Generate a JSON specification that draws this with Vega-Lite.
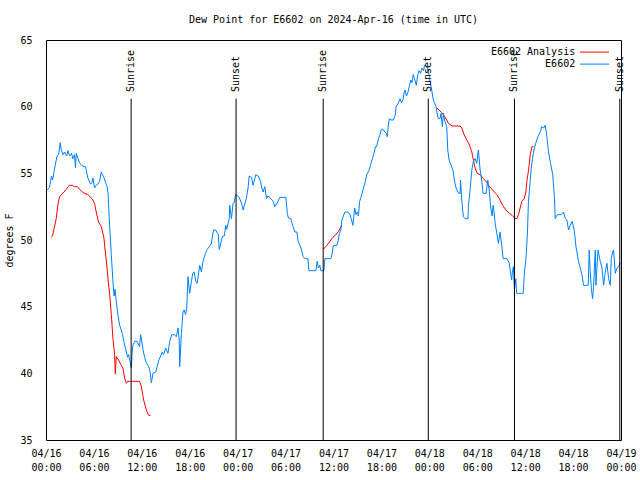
{
  "$schema": "https://vega.github.io/schema/vega-lite/v6.json",
  "width": 575,
  "height": 400,
  "autosize": "none",
  "padding": {"left": 46, "top": 40, "right": 19, "bottom": 40},
  "background": "white",
  "config": {
    "view": {"stroke": null},
    "font": "DejaVu Sans Mono",
    "axis": {"domainColor": "black", "tickColor": "black", "labelColor": "black", "titleColor": "black", "grid": false, "domainWidth": 1, "tickWidth": 1}
  },
  "title": {"text": "Dew Point for E6602 on 2024-Apr-16 (time in UTC)", "font": "DejaVu Sans Mono", "fontSize": 10, "fontWeight": "normal", "color": "black", "anchor": "middle", "frame": "group", "baseline": "alphabetic", "offset": 2},
  "datasets": {
    "ana": [
      {"h":0.65,"v":50.2,"s":"E6602 Analysis","seg":1},{"h":0.82,"v":50.3,"s":"E6602 Analysis","seg":1},{"h":0.97,"v":50.75,"s":"E6602 Analysis","seg":1},{"h":1.28,"v":51.6,"s":"E6602 Analysis","seg":1},{"h":1.48,"v":52.6,"s":"E6602 Analysis","seg":1},{"h":1.69,"v":53.25,"s":"E6602 Analysis","seg":1},{"h":2.01,"v":53.45,"s":"E6602 Analysis","seg":1},{"h":2.26,"v":53.6,"s":"E6602 Analysis","seg":1},{"h":2.53,"v":53.8,"s":"E6602 Analysis","seg":1},{"h":2.76,"v":54.0,"s":"E6602 Analysis","seg":1},{"h":2.95,"v":54.1,"s":"E6602 Analysis","seg":1},{"h":3.32,"v":54.1,"s":"E6602 Analysis","seg":1},{"h":3.57,"v":54.0,"s":"E6602 Analysis","seg":1},{"h":3.95,"v":54.0,"s":"E6602 Analysis","seg":1},{"h":4.2,"v":53.8,"s":"E6602 Analysis","seg":1},{"h":4.58,"v":53.6,"s":"E6602 Analysis","seg":1},{"h":4.83,"v":53.5,"s":"E6602 Analysis","seg":1},{"h":5.24,"v":53.4,"s":"E6602 Analysis","seg":1},{"h":5.77,"v":53.1,"s":"E6602 Analysis","seg":1},{"h":6.08,"v":52.75,"s":"E6602 Analysis","seg":1},{"h":6.29,"v":52.1,"s":"E6602 Analysis","seg":1},{"h":6.58,"v":51.35,"s":"E6602 Analysis","seg":1},{"h":6.92,"v":51.0,"s":"E6602 Analysis","seg":1},{"h":7.24,"v":50.2,"s":"E6602 Analysis","seg":1},{"h":7.46,"v":48.95,"s":"E6602 Analysis","seg":1},{"h":7.62,"v":48.05,"s":"E6602 Analysis","seg":1},{"h":7.75,"v":47.15,"s":"E6602 Analysis","seg":1},{"h":7.96,"v":46.0,"s":"E6602 Analysis","seg":1},{"h":8.18,"v":44.4,"s":"E6602 Analysis","seg":1},{"h":8.38,"v":42.65,"s":"E6602 Analysis","seg":1},{"h":8.59,"v":41.4,"s":"E6602 Analysis","seg":1},{"h":8.68,"v":39.95,"s":"E6602 Analysis","seg":1},{"h":8.8,"v":41.25,"s":"E6602 Analysis","seg":1},{"h":9.09,"v":41.0,"s":"E6602 Analysis","seg":1},{"h":9.43,"v":40.6,"s":"E6602 Analysis","seg":1},{"h":9.63,"v":40.4,"s":"E6602 Analysis","seg":1},{"h":9.84,"v":39.65,"s":"E6602 Analysis","seg":1},{"h":10.06,"v":39.25,"s":"E6602 Analysis","seg":1},{"h":10.22,"v":39.4,"s":"E6602 Analysis","seg":1},{"h":11.72,"v":39.4,"s":"E6602 Analysis","seg":1},{"h":11.93,"v":39.05,"s":"E6602 Analysis","seg":1},{"h":12.23,"v":38.0,"s":"E6602 Analysis","seg":1},{"h":12.56,"v":37.25,"s":"E6602 Analysis","seg":1},{"h":12.85,"v":36.85,"s":"E6602 Analysis","seg":1},{"h":13.1,"v":36.85,"s":"E6602 Analysis","seg":1},
      {"h":34.73,"v":49.3,"s":"E6602 Analysis","seg":2},{"h":35.17,"v":49.6,"s":"E6602 Analysis","seg":2},{"h":35.55,"v":49.9,"s":"E6602 Analysis","seg":2},{"h":35.92,"v":50.2,"s":"E6602 Analysis","seg":2},{"h":36.3,"v":50.4,"s":"E6602 Analysis","seg":2},{"h":36.68,"v":50.7,"s":"E6602 Analysis","seg":2},{"h":37.02,"v":51.1,"s":"E6602 Analysis","seg":2},
      {"h":48.93,"v":59.9,"s":"E6602 Analysis","seg":3},{"h":49.56,"v":59.55,"s":"E6602 Analysis","seg":3},{"h":49.76,"v":59.4,"s":"E6602 Analysis","seg":3},{"h":50.18,"v":59.0,"s":"E6602 Analysis","seg":3},{"h":50.39,"v":58.75,"s":"E6602 Analysis","seg":3},{"h":50.85,"v":58.55,"s":"E6602 Analysis","seg":3},{"h":51.85,"v":58.55,"s":"E6602 Analysis","seg":3},{"h":52.06,"v":58.4,"s":"E6602 Analysis","seg":3},{"h":52.35,"v":57.9,"s":"E6602 Analysis","seg":3},{"h":52.69,"v":57.5,"s":"E6602 Analysis","seg":3},{"h":52.98,"v":57.2,"s":"E6602 Analysis","seg":3},{"h":53.32,"v":56.6,"s":"E6602 Analysis","seg":3},{"h":53.52,"v":56.0,"s":"E6602 Analysis","seg":3},{"h":53.73,"v":55.4,"s":"E6602 Analysis","seg":3},{"h":53.98,"v":55.0,"s":"E6602 Analysis","seg":3},{"h":54.36,"v":54.9,"s":"E6602 Analysis","seg":3},{"h":54.77,"v":54.6,"s":"E6602 Analysis","seg":3},{"h":55.11,"v":54.4,"s":"E6602 Analysis","seg":3},{"h":55.4,"v":54.1,"s":"E6602 Analysis","seg":3},{"h":55.93,"v":53.75,"s":"E6602 Analysis","seg":3},{"h":56.45,"v":53.4,"s":"E6602 Analysis","seg":3},{"h":56.77,"v":53.1,"s":"E6602 Analysis","seg":3},{"h":57.18,"v":52.6,"s":"E6602 Analysis","seg":3},{"h":57.59,"v":52.25,"s":"E6602 Analysis","seg":3},{"h":58.02,"v":52.0,"s":"E6602 Analysis","seg":3},{"h":58.37,"v":51.85,"s":"E6602 Analysis","seg":3},{"h":58.68,"v":51.65,"s":"E6602 Analysis","seg":3},{"h":58.96,"v":51.6,"s":"E6602 Analysis","seg":3},{"h":59.16,"v":51.9,"s":"E6602 Analysis","seg":3},{"h":59.37,"v":52.4,"s":"E6602 Analysis","seg":3},{"h":59.58,"v":52.9,"s":"E6602 Analysis","seg":3},{"h":59.87,"v":53.1,"s":"E6602 Analysis","seg":3},{"h":60.09,"v":53.6,"s":"E6602 Analysis","seg":3},{"h":60.21,"v":54.4,"s":"E6602 Analysis","seg":3},{"h":60.34,"v":54.9,"s":"E6602 Analysis","seg":3},{"h":60.5,"v":55.6,"s":"E6602 Analysis","seg":3},{"h":60.63,"v":56.4,"s":"E6602 Analysis","seg":3},{"h":60.84,"v":57.0,"s":"E6602 Analysis","seg":3},{"h":61.04,"v":57.0,"s":"E6602 Analysis","seg":3}
    ],
    "obs": [
      {"h":0.15,"v":53.75,"s":"E6602"},{"h":0.44,"v":53.95,"s":"E6602"},{"h":0.69,"v":54.8,"s":"E6602"},{"h":0.82,"v":54.5,"s":"E6602"},{"h":1.15,"v":55.6,"s":"E6602"},{"h":1.38,"v":56.3,"s":"E6602"},{"h":1.57,"v":56.4,"s":"E6602"},{"h":1.78,"v":57.3,"s":"E6602"},{"h":1.91,"v":56.75,"s":"E6602"},{"h":2.13,"v":56.4,"s":"E6602"},{"h":2.32,"v":56.6,"s":"E6602"},{"h":2.57,"v":56.3,"s":"E6602"},{"h":2.76,"v":56.7,"s":"E6602"},{"h":2.95,"v":56.3,"s":"E6602"},{"h":3.2,"v":56.5,"s":"E6602"},{"h":3.36,"v":56.1,"s":"E6602"},{"h":3.57,"v":56.4,"s":"E6602"},{"h":3.69,"v":55.4,"s":"E6602"},{"h":3.79,"v":56.5,"s":"E6602"},{"h":3.95,"v":56.2,"s":"E6602"},{"h":4.2,"v":55.8,"s":"E6602"},{"h":4.45,"v":55.6,"s":"E6602"},{"h":4.76,"v":55.5,"s":"E6602"},{"h":4.95,"v":55.5,"s":"E6602"},{"h":5.24,"v":54.65,"s":"E6602"},{"h":5.58,"v":54.2,"s":"E6602"},{"h":5.77,"v":54.3,"s":"E6602"},{"h":5.87,"v":54.65,"s":"E6602"},{"h":6.08,"v":53.9,"s":"E6602"},{"h":6.27,"v":54.1,"s":"E6602"},{"h":6.5,"v":54.2,"s":"E6602"},{"h":6.71,"v":54.4,"s":"E6602"},{"h":6.92,"v":55.1,"s":"E6602"},{"h":7.08,"v":54.9,"s":"E6602"},{"h":7.24,"v":54.7,"s":"E6602"},{"h":7.46,"v":54.3,"s":"E6602"},{"h":7.65,"v":54.0,"s":"E6602"},{"h":7.77,"v":53.5,"s":"E6602"},{"h":7.96,"v":51.1,"s":"E6602"},{"h":8.18,"v":48.9,"s":"E6602"},{"h":8.38,"v":46.9,"s":"E6602"},{"h":8.53,"v":45.8,"s":"E6602"},{"h":8.65,"v":46.3,"s":"E6602"},{"h":8.78,"v":45.5,"s":"E6602"},{"h":9.0,"v":44.4,"s":"E6602"},{"h":9.22,"v":43.6,"s":"E6602"},{"h":9.43,"v":43.25,"s":"E6602"},{"h":9.59,"v":42.9,"s":"E6602"},{"h":9.74,"v":42.4,"s":"E6602"},{"h":10.06,"v":41.6,"s":"E6602"},{"h":10.22,"v":41.2,"s":"E6602"},{"h":10.34,"v":41.4,"s":"E6602"},{"h":10.53,"v":40.9,"s":"E6602"},{"h":10.68,"v":40.4,"s":"E6602"},{"h":10.78,"v":41.5,"s":"E6602"},{"h":10.88,"v":42.1,"s":"E6602"},{"h":11.1,"v":42.4,"s":"E6602"},{"h":11.41,"v":42.4,"s":"E6602"},{"h":11.72,"v":42.0,"s":"E6602"},{"h":11.85,"v":42.9,"s":"E6602"},{"h":11.97,"v":42.5,"s":"E6602"},{"h":12.14,"v":41.8,"s":"E6602"},{"h":12.35,"v":41.2,"s":"E6602"},{"h":12.56,"v":40.8,"s":"E6602"},{"h":12.87,"v":40.5,"s":"E6602"},{"h":13.04,"v":40.1,"s":"E6602"},{"h":13.19,"v":39.3,"s":"E6602"},{"h":13.29,"v":39.6,"s":"E6602"},{"h":13.39,"v":40.0,"s":"E6602"},{"h":13.73,"v":40.1,"s":"E6602"},{"h":13.92,"v":40.5,"s":"E6602"},{"h":14.13,"v":41.0,"s":"E6602"},{"h":14.36,"v":41.3,"s":"E6602"},{"h":14.55,"v":41.6,"s":"E6602"},{"h":14.73,"v":41.4,"s":"E6602"},{"h":14.98,"v":41.9,"s":"E6602"},{"h":15.27,"v":41.5,"s":"E6602"},{"h":15.49,"v":42.4,"s":"E6602"},{"h":15.74,"v":42.9,"s":"E6602"},{"h":16.05,"v":42.9,"s":"E6602"},{"h":16.33,"v":42.75,"s":"E6602"},{"h":16.53,"v":43.4,"s":"E6602"},{"h":16.68,"v":42.5,"s":"E6602"},{"h":16.74,"v":40.5,"s":"E6602"},{"h":16.95,"v":43.0,"s":"E6602"},{"h":17.15,"v":44.6,"s":"E6602"},{"h":17.3,"v":44.75,"s":"E6602"},{"h":17.47,"v":44.4,"s":"E6602"},{"h":17.62,"v":44.9,"s":"E6602"},{"h":17.78,"v":47.25,"s":"E6602"},{"h":17.99,"v":46.0,"s":"E6602"},{"h":18.21,"v":46.9,"s":"E6602"},{"h":18.37,"v":47.5,"s":"E6602"},{"h":18.56,"v":47.6,"s":"E6602"},{"h":18.75,"v":46.9,"s":"E6602"},{"h":18.93,"v":46.75,"s":"E6602"},{"h":19.25,"v":48.1,"s":"E6602"},{"h":19.46,"v":47.6,"s":"E6602"},{"h":19.66,"v":48.4,"s":"E6602"},{"h":19.97,"v":49.0,"s":"E6602"},{"h":20.19,"v":49.3,"s":"E6602"},{"h":20.44,"v":49.5,"s":"E6602"},{"h":20.69,"v":49.7,"s":"E6602"},{"h":20.97,"v":50.75,"s":"E6602"},{"h":21.25,"v":50.75,"s":"E6602"},{"h":21.57,"v":50.4,"s":"E6602"},{"h":21.69,"v":49.3,"s":"E6602"},{"h":21.88,"v":49.7,"s":"E6602"},{"h":22.07,"v":50.25,"s":"E6602"},{"h":22.32,"v":50.3,"s":"E6602"},{"h":22.51,"v":51.1,"s":"E6602"},{"h":22.63,"v":50.8,"s":"E6602"},{"h":22.8,"v":51.25,"s":"E6602"},{"h":22.95,"v":51.6,"s":"E6602"},{"h":23.01,"v":52.6,"s":"E6602"},{"h":23.22,"v":51.6,"s":"E6602"},{"h":23.42,"v":52.75,"s":"E6602"},{"h":23.57,"v":52.8,"s":"E6602"},{"h":23.74,"v":53.4,"s":"E6602"},{"h":23.89,"v":53.35,"s":"E6602"},{"h":24.14,"v":53.25,"s":"E6602"},{"h":24.33,"v":53.0,"s":"E6602"},{"h":24.51,"v":52.7,"s":"E6602"},{"h":24.68,"v":52.25,"s":"E6602"},{"h":24.89,"v":52.7,"s":"E6602"},{"h":25.08,"v":53.1,"s":"E6602"},{"h":25.3,"v":53.9,"s":"E6602"},{"h":25.45,"v":54.8,"s":"E6602"},{"h":25.64,"v":54.75,"s":"E6602"},{"h":25.77,"v":54.6,"s":"E6602"},{"h":25.93,"v":54.1,"s":"E6602"},{"h":26.14,"v":54.6,"s":"E6602"},{"h":26.27,"v":54.9,"s":"E6602"},{"h":26.58,"v":54.8,"s":"E6602"},{"h":26.86,"v":54.4,"s":"E6602"},{"h":27.02,"v":53.9,"s":"E6602"},{"h":27.19,"v":53.6,"s":"E6602"},{"h":27.4,"v":54.0,"s":"E6602"},{"h":27.61,"v":53.1,"s":"E6602"},{"h":27.77,"v":53.3,"s":"E6602"},{"h":28.02,"v":53.2,"s":"E6602"},{"h":28.27,"v":53.0,"s":"E6602"},{"h":28.44,"v":52.9,"s":"E6602"},{"h":28.65,"v":52.5,"s":"E6602"},{"h":28.97,"v":52.8,"s":"E6602"},{"h":29.28,"v":53.2,"s":"E6602"},{"h":29.78,"v":53.2,"s":"E6602"},{"h":30.03,"v":53.2,"s":"E6602"},{"h":30.22,"v":52.0,"s":"E6602"},{"h":30.35,"v":51.65,"s":"E6602"},{"h":30.66,"v":51.6,"s":"E6602"},{"h":30.78,"v":51.3,"s":"E6602"},{"h":31.16,"v":50.6,"s":"E6602"},{"h":31.41,"v":50.6,"s":"E6602"},{"h":31.57,"v":49.9,"s":"E6602"},{"h":31.79,"v":49.6,"s":"E6602"},{"h":32.0,"v":49.25,"s":"E6602"},{"h":32.2,"v":48.75,"s":"E6602"},{"h":32.41,"v":48.6,"s":"E6602"},{"h":32.79,"v":48.6,"s":"E6602"},{"h":32.92,"v":47.7,"s":"E6602"},{"h":33.42,"v":47.7,"s":"E6602"},{"h":33.79,"v":47.7,"s":"E6602"},{"h":33.96,"v":48.4,"s":"E6602"},{"h":34.11,"v":47.9,"s":"E6602"},{"h":34.29,"v":48.1,"s":"E6602"},{"h":34.42,"v":47.7,"s":"E6602"},{"h":34.8,"v":47.7,"s":"E6602"},{"h":34.92,"v":48.6,"s":"E6602"},{"h":35.3,"v":48.6,"s":"E6602"},{"h":35.67,"v":48.6,"s":"E6602"},{"h":35.8,"v":48.9,"s":"E6602"},{"h":35.99,"v":49.6,"s":"E6602"},{"h":36.43,"v":49.6,"s":"E6602"},{"h":36.61,"v":50.0,"s":"E6602"},{"h":36.74,"v":50.5,"s":"E6602"},{"h":36.93,"v":50.8,"s":"E6602"},{"h":37.05,"v":51.5,"s":"E6602"},{"h":37.24,"v":51.8,"s":"E6602"},{"h":37.43,"v":52.1,"s":"E6602"},{"h":37.81,"v":52.1,"s":"E6602"},{"h":38.06,"v":51.9,"s":"E6602"},{"h":38.22,"v":51.6,"s":"E6602"},{"h":38.43,"v":51.1,"s":"E6602"},{"h":38.65,"v":52.4,"s":"E6602"},{"h":38.81,"v":51.9,"s":"E6602"},{"h":39.0,"v":52.1,"s":"E6602"},{"h":39.12,"v":51.8,"s":"E6602"},{"h":39.27,"v":52.9,"s":"E6602"},{"h":39.44,"v":53.2,"s":"E6602"},{"h":39.69,"v":53.75,"s":"E6602"},{"h":39.94,"v":54.3,"s":"E6602"},{"h":40.19,"v":54.95,"s":"E6602"},{"h":40.44,"v":55.2,"s":"E6602"},{"h":40.63,"v":55.6,"s":"E6602"},{"h":40.82,"v":56.0,"s":"E6602"},{"h":41.07,"v":56.5,"s":"E6602"},{"h":41.25,"v":57.0,"s":"E6602"},{"h":41.4,"v":57.0,"s":"E6602"},{"h":41.63,"v":57.6,"s":"E6602"},{"h":41.82,"v":57.9,"s":"E6602"},{"h":42.0,"v":58.3,"s":"E6602"},{"h":42.19,"v":58.3,"s":"E6602"},{"h":42.44,"v":58.1,"s":"E6602"},{"h":42.63,"v":58.0,"s":"E6602"},{"h":42.73,"v":57.75,"s":"E6602"},{"h":42.88,"v":58.7,"s":"E6602"},{"h":43.0,"v":59.1,"s":"E6602"},{"h":43.2,"v":59.0,"s":"E6602"},{"h":43.48,"v":59.0,"s":"E6602"},{"h":43.7,"v":59.3,"s":"E6602"},{"h":43.86,"v":60.05,"s":"E6602"},{"h":44.07,"v":60.2,"s":"E6602"},{"h":44.33,"v":60.6,"s":"E6602"},{"h":44.51,"v":60.3,"s":"E6602"},{"h":44.7,"v":60.5,"s":"E6602"},{"h":44.83,"v":61.0,"s":"E6602"},{"h":44.95,"v":61.25,"s":"E6602"},{"h":45.14,"v":60.8,"s":"E6602"},{"h":45.33,"v":61.1,"s":"E6602"},{"h":45.52,"v":61.6,"s":"E6602"},{"h":45.68,"v":62.0,"s":"E6602"},{"h":45.83,"v":61.8,"s":"E6602"},{"h":45.99,"v":62.4,"s":"E6602"},{"h":46.14,"v":62.1,"s":"E6602"},{"h":46.37,"v":61.6,"s":"E6602"},{"h":46.52,"v":62.3,"s":"E6602"},{"h":46.71,"v":62.7,"s":"E6602"},{"h":46.9,"v":62.5,"s":"E6602"},{"h":47.08,"v":62.9,"s":"E6602"},{"h":47.27,"v":62.7,"s":"E6602"},{"h":47.42,"v":63.1,"s":"E6602"},{"h":47.59,"v":63.05,"s":"E6602"},{"h":47.77,"v":62.9,"s":"E6602"},{"h":47.96,"v":62.4,"s":"E6602"},{"h":48.09,"v":61.9,"s":"E6602"},{"h":48.3,"v":61.25,"s":"E6602"},{"h":48.5,"v":60.5,"s":"E6602"},{"h":48.65,"v":60.3,"s":"E6602"},{"h":48.84,"v":60.0,"s":"E6602"},{"h":49.03,"v":59.3,"s":"E6602"},{"h":49.15,"v":59.1,"s":"E6602"},{"h":49.34,"v":59.1,"s":"E6602"},{"h":49.47,"v":59.5,"s":"E6602"},{"h":49.63,"v":58.5,"s":"E6602"},{"h":49.76,"v":59.5,"s":"E6602"},{"h":49.91,"v":59.0,"s":"E6602"},{"h":50.18,"v":58.5,"s":"E6602"},{"h":50.31,"v":56.75,"s":"E6602"},{"h":50.47,"v":56.0,"s":"E6602"},{"h":50.72,"v":55.6,"s":"E6602"},{"h":50.95,"v":55.25,"s":"E6602"},{"h":51.13,"v":54.5,"s":"E6602"},{"h":51.35,"v":53.9,"s":"E6602"},{"h":51.66,"v":53.5,"s":"E6602"},{"h":51.85,"v":53.5,"s":"E6602"},{"h":51.91,"v":54.5,"s":"E6602"},{"h":52.06,"v":53.0,"s":"E6602"},{"h":52.26,"v":51.75,"s":"E6602"},{"h":52.48,"v":51.6,"s":"E6602"},{"h":52.85,"v":51.6,"s":"E6602"},{"h":52.89,"v":52.5,"s":"E6602"},{"h":53.1,"v":53.75,"s":"E6602"},{"h":53.32,"v":55.25,"s":"E6602"},{"h":53.52,"v":55.9,"s":"E6602"},{"h":53.73,"v":56.1,"s":"E6602"},{"h":53.94,"v":55.75,"s":"E6602"},{"h":54.14,"v":56.75,"s":"E6602"},{"h":54.36,"v":55.25,"s":"E6602"},{"h":54.57,"v":54.4,"s":"E6602"},{"h":54.73,"v":53.5,"s":"E6602"},{"h":55.11,"v":53.5,"s":"E6602"},{"h":55.32,"v":54.5,"s":"E6602"},{"h":55.49,"v":53.75,"s":"E6602"},{"h":55.7,"v":52.4,"s":"E6602"},{"h":55.86,"v":51.8,"s":"E6602"},{"h":55.99,"v":52.6,"s":"E6602"},{"h":56.11,"v":52.1,"s":"E6602"},{"h":56.24,"v":51.25,"s":"E6602"},{"h":56.45,"v":50.5,"s":"E6602"},{"h":56.65,"v":49.75,"s":"E6602"},{"h":56.86,"v":50.6,"s":"E6602"},{"h":57.08,"v":49.5,"s":"E6602"},{"h":57.24,"v":48.6,"s":"E6602"},{"h":57.74,"v":48.6,"s":"E6602"},{"h":57.99,"v":48.3,"s":"E6602"},{"h":58.18,"v":47.5,"s":"E6602"},{"h":58.31,"v":47.0,"s":"E6602"},{"h":58.41,"v":47.7,"s":"E6602"},{"h":58.53,"v":48.0,"s":"E6602"},{"h":58.66,"v":46.25,"s":"E6602"},{"h":58.83,"v":47.1,"s":"E6602"},{"h":58.93,"v":46.0,"s":"E6602"},{"h":59.12,"v":46.0,"s":"E6602"},{"h":59.5,"v":46.0,"s":"E6602"},{"h":59.75,"v":46.0,"s":"E6602"},{"h":59.91,"v":47.6,"s":"E6602"},{"h":60.09,"v":48.5,"s":"E6602"},{"h":60.29,"v":50.6,"s":"E6602"},{"h":60.41,"v":52.9,"s":"E6602"},{"h":60.63,"v":54.4,"s":"E6602"},{"h":60.75,"v":55.3,"s":"E6602"},{"h":60.92,"v":56.1,"s":"E6602"},{"h":61.09,"v":56.75,"s":"E6602"},{"h":61.32,"v":57.25,"s":"E6602"},{"h":61.59,"v":57.75,"s":"E6602"},{"h":61.76,"v":57.95,"s":"E6602"},{"h":61.95,"v":58.2,"s":"E6602"},{"h":62.05,"v":58.5,"s":"E6602"},{"h":62.3,"v":58.4,"s":"E6602"},{"h":62.51,"v":58.6,"s":"E6602"},{"h":62.72,"v":57.75,"s":"E6602"},{"h":62.92,"v":56.6,"s":"E6602"},{"h":63.13,"v":55.9,"s":"E6602"},{"h":63.45,"v":54.9,"s":"E6602"},{"h":63.67,"v":53.15,"s":"E6602"},{"h":63.76,"v":51.6,"s":"E6602"},{"h":64.01,"v":51.9,"s":"E6602"},{"h":64.26,"v":51.9,"s":"E6602"},{"h":64.51,"v":51.9,"s":"E6602"},{"h":64.8,"v":52.1,"s":"E6602"},{"h":65.02,"v":51.6,"s":"E6602"},{"h":65.23,"v":51.5,"s":"E6602"},{"h":65.43,"v":50.75,"s":"E6602"},{"h":65.64,"v":51.1,"s":"E6602"},{"h":65.89,"v":51.4,"s":"E6602"},{"h":66.18,"v":50.6,"s":"E6602"},{"h":66.36,"v":49.5,"s":"E6602"},{"h":66.68,"v":48.4,"s":"E6602"},{"h":66.9,"v":47.9,"s":"E6602"},{"h":67.11,"v":47.4,"s":"E6602"},{"h":67.31,"v":46.6,"s":"E6602"},{"h":67.65,"v":46.6,"s":"E6602"},{"h":67.9,"v":46.6,"s":"E6602"},{"h":68.02,"v":49.25,"s":"E6602"},{"h":68.15,"v":47.6,"s":"E6602"},{"h":68.28,"v":46.4,"s":"E6602"},{"h":68.44,"v":45.6,"s":"E6602"},{"h":68.56,"v":46.5,"s":"E6602"},{"h":68.78,"v":49.25,"s":"E6602"},{"h":68.86,"v":46.6,"s":"E6602"},{"h":69.12,"v":49.25,"s":"E6602"},{"h":69.4,"v":48.4,"s":"E6602"},{"h":69.62,"v":47.9,"s":"E6602"},{"h":69.82,"v":46.6,"s":"E6602"},{"h":70.03,"v":47.6,"s":"E6602"},{"h":70.24,"v":48.25,"s":"E6602"},{"h":70.45,"v":47.1,"s":"E6602"},{"h":70.66,"v":46.6,"s":"E6602"},{"h":70.78,"v":48.6,"s":"E6602"},{"h":70.95,"v":49.1,"s":"E6602"},{"h":71.07,"v":49.25,"s":"E6602"},{"h":71.28,"v":47.5,"s":"E6602"},{"h":71.5,"v":47.9,"s":"E6602"},{"h":71.7,"v":48.0,"s":"E6602"},{"h":71.91,"v":48.3,"s":"E6602"}
    ],
    "events": [
      {"h":10.66,"label":"Sunrise"},{"h":23.8,"label":"Sunset"},{"h":34.71,"label":"Sunrise"},{"h":47.87,"label":"Sunset"},{"h":58.66,"label":"Sunrise"},{"h":71.85,"label":"Sunset"}
    ]
  },
  "layer": [
    {
      "data": {"name": "ana"},
      "mark": {"type": "line", "strokeWidth": 1, "interpolate": "linear"},
      "encoding": {
        "x": {"field": "h", "type": "quantitative", "scale": {"domain": [0, 72], "nice": false, "zero": false},
          "axis": {"orient": "bottom", "values": [0,2,4,6,8,10,12,14,16,18,20,22,24,26,28,30,32,34,36,38,40,42,44,46,48,50,52,54,56,58,60,62,64,66,68,70,72],
            "tickSize": 0, "title": null, "labelFont": "DejaVu Sans Mono", "labelFontSize": 10, "labelPadding": 8, "labelLineHeight": 14, "labelBaseline": "top", "labelFlush": false, "labelOverlap": false, "labelBound": false,
            "labelExpr": "datum.value % 6 === 0 ? ['04/' + (16 + floor(datum.value / 24)), ((datum.value % 24) < 10 ? '0' : '') + (datum.value % 24) + ':00'] : ''",
            "encode": {"ticks": {"update": {"y2": {"signal": "datum.value % 6 === 0 ? -5 : -2.5"}}}}}},
        "y": {"field": "v", "type": "quantitative", "scale": {"domain": [35, 65], "nice": false, "zero": false},
          "axis": {"orient": "left", "values": [35,40,45,50,55,60,65], "tickSize": 0, "labelPadding": 14, "labelFont": "DejaVu Sans Mono", "labelFontSize": 10, "labelFlush": false, "labelOverlap": false,
            "title": "degrees F", "titleFont": "DejaVu Sans Mono", "titleFontSize": 10, "titleFontWeight": "normal", "titlePadding": 5,
            "encode": {"ticks": {"update": {"x2": {"value": 5}}}}}},
        "color": {"field": "s", "type": "nominal", "scale": {"domain": ["E6602 Analysis", "E6602"], "range": ["#ff0000", "#0080ff"]},
          "legend": {"orient": "none", "legendX": 543.6, "legendY": 7.1, "title": null, "symbolType": "M-5,0H5", "symbolSize": 33.64, "symbolStrokeWidth": 1,
            "labelAlign": "right", "labelOffset": -24.4, "labelFont": "DejaVu Sans Mono", "labelFontSize": 10, "labelColor": "black", "rowPadding": 2, "padding": 0, "symbolOffset": 0,
            "encode": {"symbols": {"update": {"stroke": {"scale": "color", "field": "value"}, "strokeWidth": {"value": 1}, "opacity": {"value": 1}, "fill": {"value": "transparent"}}}}}},
        "detail": {"field": "seg", "type": "nominal"}
      }
    },
    {
      "data": {"name": "obs"},
      "mark": {"type": "line", "strokeWidth": 1, "interpolate": "linear"},
      "encoding": {
        "x": {"field": "h", "type": "quantitative",
          "axis": {"orient": "top", "values": [0,2,4,6,8,10,12,14,16,18,20,22,24,26,28,30,32,34,36,38,40,42,44,46,48,50,52,54,56,58,60,62,64,66,68,70,72],
            "tickSize": 0, "labels": false, "title": null,
            "encode": {"ticks": {"update": {"y2": {"signal": "datum.value % 6 === 0 ? 5 : 2.5"}}}}}},
        "y": {"field": "v", "type": "quantitative",
          "axis": {"orient": "right", "values": [35,40,45,50,55,60,65], "tickSize": 0, "labels": false, "title": null,
            "encode": {"ticks": {"update": {"x2": {"value": -5}}}}}},
        "color": {"field": "s", "type": "nominal"}
      }
    },
    {
      "data": {"name": "events"},
      "mark": {"type": "rule", "color": "black", "strokeWidth": 1},
      "encoding": {
        "x": {"field": "h", "type": "quantitative", "axis": null},
        "y": {"datum": 35, "axis": null},
        "y2": {"datum": 60.6}
      }
    },
    {
      "data": {"name": "events"},
      "mark": {"type": "text", "angle": 270, "align": "left", "baseline": "middle", "font": "DejaVu Sans Mono", "fontSize": 10, "color": "black"},
      "encoding": {
        "x": {"field": "h", "type": "quantitative", "axis": null},
        "y": {"datum": 61.1, "axis": null},
        "text": {"field": "label"}
      }
    }
  ],
  "resolve": {"axis": {"x": "independent", "y": "independent"}}
}
